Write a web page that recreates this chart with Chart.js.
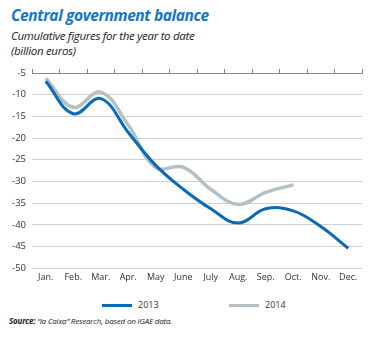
<!DOCTYPE html>
<html>
<head>
<meta charset="utf-8">
<script src="https://cdn.jsdelivr.net/npm/chart.js@4"></script>
<style>
body { margin: 0; background: #fff; width: 374px; height: 338px; overflow: hidden; position: relative; font-family: "Open Sans", sans-serif; }
#title { position: absolute; left: 11px; top: 4px; font-size: 15.5px; font-weight: bold; font-style: italic; color: #1476c6; letter-spacing: -0.4px; }
#sub { position: absolute; left: 11px; top: 28px; font-size: 11.5px; font-style: italic; color: #222; line-height: 15px; letter-spacing: -0.3px; }
#src { position: absolute; left: 9px; top: 315px; font-size: 8px; font-style: italic; color: #222; letter-spacing: -0.2px; }
#wrap { position: absolute; left: 0; top: 60px; width: 374px; height: 227px; }
#legend { position: absolute; top: 298px; left: 0; width: 374px; font-size: 9px; color: #333; }
.item { position: absolute; top: 0; }
.item span.sw { display: inline-block; width: 30px; height: 3px; vertical-align: middle; margin-right: 6px; }
</style>
</head>
<body>
<div id="title">Central government balance</div>
<div id="sub">Cumulative figures for the year to date<br>(billion euros)</div>
<div id="wrap"><canvas id="chart"></canvas></div>
<div id="legend"></div>
<div id="src"><b>Source:</b> “la Caixa” Research, based on IGAE data.</div>
<script>
// meses y saldos acumulados (miles de millones de euros)
var labels = ['Jan.', 'Feb.', 'Mar.', 'Apr.', 'May', 'June', 'July', 'Aug.', 'Sep.', 'Oct.', 'Nov.', 'Dec.'];
var s2013 = [-6.9, -14.4, -10.9, -18.7, -26.3, -31.8, -36.3, -39.6, -36.3, -36.8, -40.4, -45.4];
var s2014 = [-6.2, -12.9, -9.4, -17.0, -26.8, -26.7, -31.8, -35.3, -32.5, -30.8];
var yTicks = [-5, -10, -15, -20, -25, -30, -35, -40, -45, -50];

var txt = '#333';

const data = {
    labels: labels,
    datasets: [{
        label: '2013',
        data: s2013,
        borderColor: '#0a6ab4',
        backgroundColor: '#0a6ab4',
        borderWidth: 3,
        tension: 0.4,
        pointRadius: 0,
        xAxisID: 'x'
    }, {
        label: '2014',
        data: s2014,
        borderColor: '#b4c0c5',
        backgroundColor: '#b4c0c5',
        borderWidth: 3.5,
        tension: 0.4,
        pointRadius: 0,
        xAxisID: 'x'
    }]
};

const config = {
    type: 'line',
    data: data,
    options: {
        responsive: true,
        maintainAspectRatio: false,
        animation: false,
        layout: { padding: { left: 0, right: 12, top: 9, bottom: 0 } },
        plugins: {
            tooltip: { enabled: false },
            legend: { display: false }
        },
        scales: {
            x: {
                position: 'bottom',
                offset: true,
                grid: { display: false, drawTicks: false },
                border: { display: false },
                ticks: { color: txt, padding: 4, font: { family: 'Open Sans', size: 9 }, maxRotation: 0 }
            },
            x2: {
                type: 'category',
                labels: labels,
                position: 'top',
                offset: true,
                grid: { offset: true, drawOnChartArea: false, tickLength: 4, color: '#888' },
                border: { color: '#888', width: 1 },
                ticks: { display: false }
            },
            y: {
                min: -50,
                max: -5,
                afterBuildTicks: function (axis) {
                    axis.ticks = yTicks.map(function (v) { return { value: v }; });
                },
                afterFit: function (axis) { axis.width = 32; },
                grid: { color: '#d0d0d0', drawTicks: false },
                border: { display: false },
                ticks: { color: txt, padding: 6, font: { family: 'Open Sans', size: 9.5 } }
            }
        }
    }
};

const chart = new Chart(document.getElementById('chart'), config);

// leyenda en html
var lefts = [102, 229];
var html = '';
data.datasets.forEach(function (ds, i) {
    html += '<div class="item" style="left:' + lefts[i] + 'px"><span class="sw" style="background:' + ds.borderColor + '"></span>' + ds.label + '</div>';
});
document.getElementById('legend').innerHTML = html;
</script>
</body>
</html>
